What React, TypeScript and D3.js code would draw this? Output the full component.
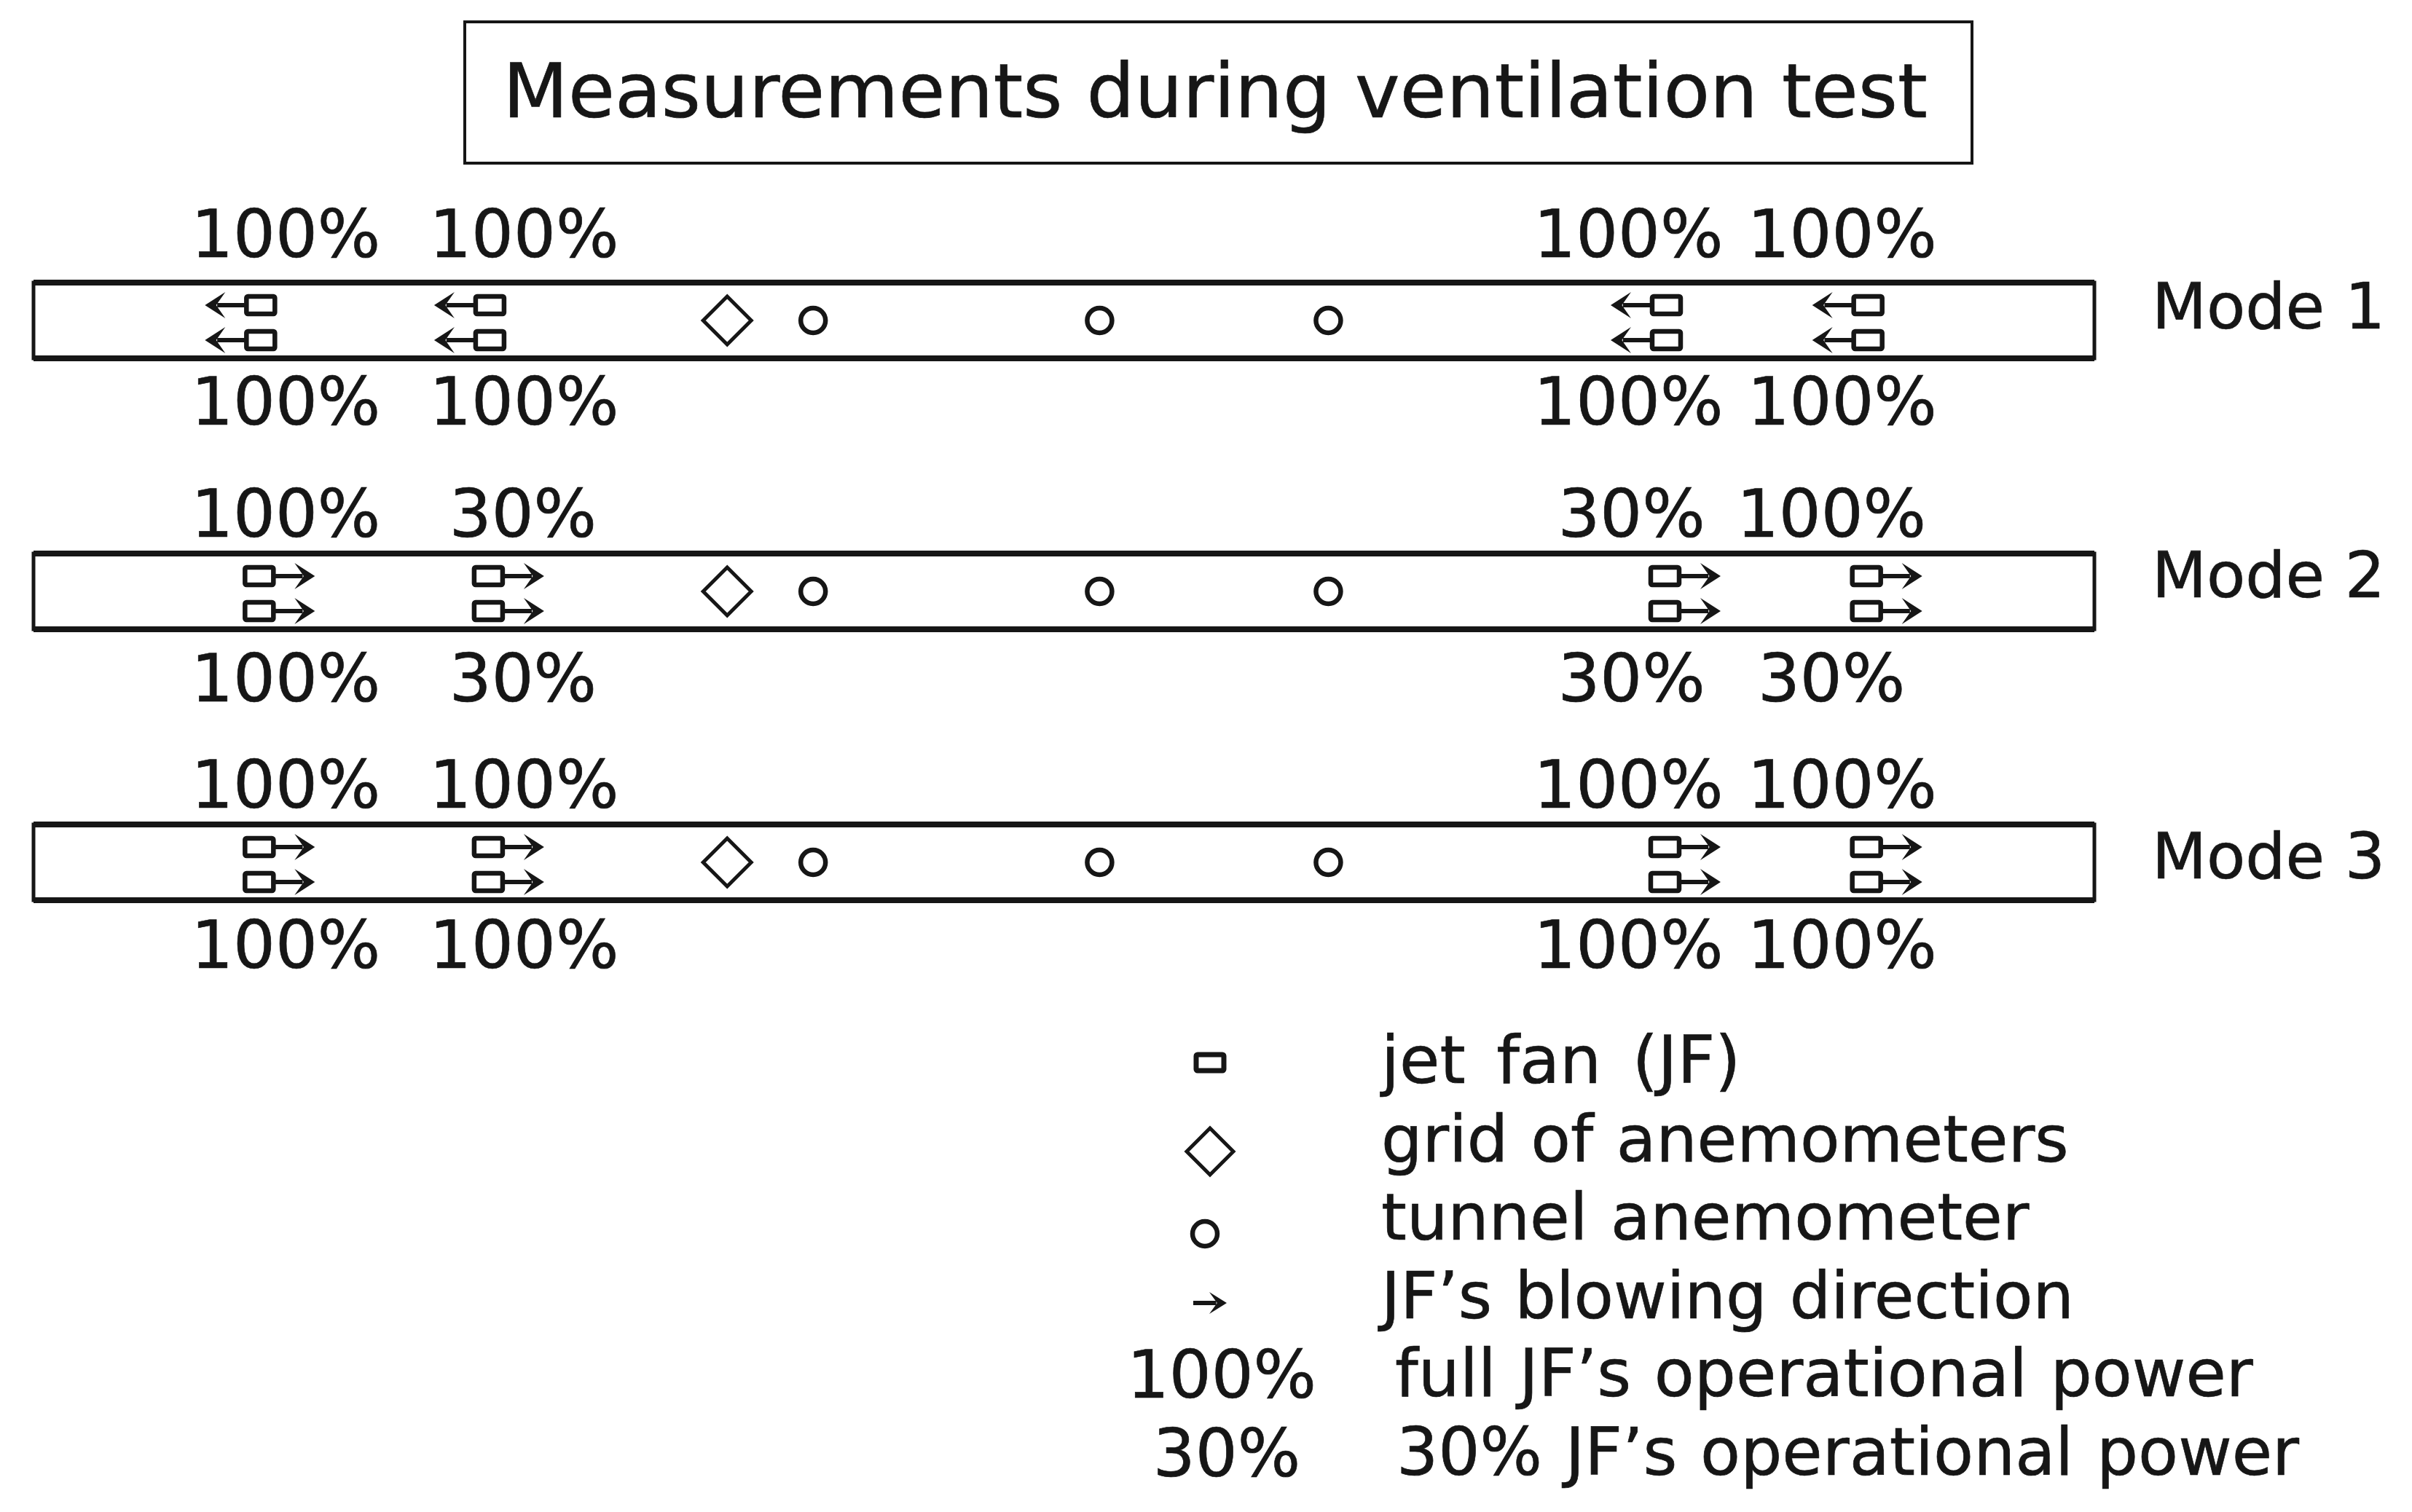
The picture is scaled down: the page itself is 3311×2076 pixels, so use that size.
import React, { useEffect, useRef } from "react";
import * as d3 from "d3";

const modes = ["Mode 1", "Mode 2", "Mode 3"];
// fan blowing direction per mode, -1 = towards the left
const fanDirection = [-1, 1, 1];
// stations are percent of the tunnel length
const fanStations = [11.04, 22.16, 79.25, 89.03];
const gridStation = 33.66;
const anemometerStations = [37.9, 51.8, 62.9];

const topLabels = [
  ["100%", "100%", "100%", "100%"],
  ["100%", "30%", "30%", "100%"],
  ["100%", "100%", "100%", "100%"],
];
const bottomLabels = [
  ["100%", "100%", "100%", "100%"],
  ["100%", "30%", "30%", "30%"],
  ["100%", "100%", "100%", "100%"],
];
const labelStations = [
  [12.24, 23.8, 77.39, 87.76],
  [12.24, 23.75, 77.54, 87.24],
  [12.24, 23.8, 77.39, 87.76],
];

const legendLabels = [
  "jet fan (JF)",
  "grid of anemometers",
  "tunnel anemometer",
  "JF\u2019s blowing direction",
  "full JF\u2019s operational power",
  "30% JF\u2019s operational power",
];

const WIDTH = 3311;
const HEIGHT = 2076;
const FONT = "'DejaVu Sans', sans-serif";
const INK = "#161616";

const App: React.FC = () => {
  const svgRef = useRef<SVGSVGElement | null>(null);

  useEffect(() => {
    if (!svgRef.current) return;
    const svg = d3.select(svgRef.current);
    svg.selectAll("*").remove();

    const x = d3.scaleLinear().domain([0, 100]).range([46, 2875]);
    const y = d3.scalePoint<string>().domain(modes).range([440, 1184]);
    const halfTunnel = 52;

    const text = (s: string, tx: number, ty: number, size: number, anchor = "start") =>
      svg
        .append("text")
        .attr("x", tx)
        .attr("y", ty)
        .attr("font-family", FONT)
        .attr("font-size", size)
        .attr("fill", INK)
        .attr("stroke", INK)
        .attr("stroke-width", 0.7)
        .attr("text-anchor", anchor)
        .text(s);

    const diamond = (cx: number, cy: number, r: number) =>
      svg
        .append("path")
        .attr(
          "d",
          d3.line()([
            [cx - r, cy],
            [cx, cy - r],
            [cx + r, cy],
            [cx, cy + r],
          ]) + "Z"
        )
        .attr("fill", "none")
        .attr("stroke", INK)
        .attr("stroke-width", 5);

    const circle = (cx: number, cy: number, r: number) =>
      svg
        .append("circle")
        .attr("cx", cx)
        .attr("cy", cy)
        .attr("r", r)
        .attr("fill", "none")
        .attr("stroke", INK)
        .attr("stroke-width", 6.5);

    // arrow runs from its tail to the tip, dir gives the side it points to
    const arrow = (tail: number, tip: number, cy: number, dir: number, head = 28, spread = 18) => {
      svg
        .append("line")
        .attr("x1", tail)
        .attr("x2", tip - dir * head * 0.6)
        .attr("y1", cy)
        .attr("y2", cy)
        .attr("stroke", INK)
        .attr("stroke-width", 6);
      svg
        .append("path")
        .attr(
          "d",
          d3.line()([
            [tip - dir * head, cy - spread],
            [tip, cy],
            [tip - dir * head, cy + spread],
            [tip - dir * head * 0.55, cy],
          ]) + "Z"
        )
        .attr("fill", INK);
    };

    // title
    svg
      .append("rect")
      .attr("x", 638)
      .attr("y", 30)
      .attr("width", 2069)
      .attr("height", 194)
      .attr("fill", "none")
      .attr("stroke", INK)
      .attr("stroke-width", 4);
    text("Measurements during ventilation test", 1668, 161, 104, "middle");

    const topDy = [-87, -75, -75];
    const bottomDy = [143, 151, 145];
    const modeDy = [11, 8, 22];

    modes.forEach((mode, m) => {
      const cy = y(mode) as number;

      svg
        .append("rect")
        .attr("x", x(0))
        .attr("y", cy - halfTunnel)
        .attr("width", x(100) - x(0))
        .attr("height", halfTunnel * 2)
        .attr("fill", "none")
        .attr("stroke", INK)
        .attr("stroke-width", 5);
      [-halfTunnel, halfTunnel].forEach((d) =>
        svg
          .append("line")
          .attr("x1", x(0))
          .attr("x2", x(100))
          .attr("y1", cy + d)
          .attr("y2", cy + d)
          .attr("stroke", INK)
          .attr("stroke-width", 8)
      );

      const dir = fanDirection[m];
      fanStations.forEach((s) => {
        // the whole fan+arrow glyph is shifted to the blowing side of the station
        const cx = x(s) + dir * 26 + (dir < 0 ? -3 : 0);
        [-21, 27].forEach((d) => {
          const fanLeft = cx - dir * 48 - (dir > 0 ? 0 : 39);
          svg
            .append("rect")
            .attr("x", fanLeft)
            .attr("y", cy + d - 12)
            .attr("width", 39)
            .attr("height", 24)
            .attr("rx", 2)
            .attr("fill", "none")
            .attr("stroke", INK)
            .attr("stroke-width", 6.5);
          arrow(cx - dir * 9, cx + dir * 48, cy + d, dir);
        });
      });

      diamond(x(gridStation), cy, 33);
      anemometerStations.forEach((s) => circle(x(s) - 2, cy, 17));

      labelStations[m].forEach((s, i) => {
        text(topLabels[m][i], x(s), cy + topDy[m], 91, "middle");
        text(bottomLabels[m][i], x(s), cy + bottomDy[m], 91, "middle");
      });

      text(mode, 2954, cy + modeDy[m], 87);
    });

    // legend
    const legendY = d3.scalePoint<number>().domain(d3.range(legendLabels.length)).range([1487, 2025]);
    const legendX = [1896, 1896, 1896, 1896, 1915, 1917];
    const legendSize = [90, 89, 89, 89, 90, 90];
    legendLabels.forEach((s, i) =>
      text(s, legendX[i], legendY(i) as number, legendSize[i]).attr("word-spacing", i === 0 ? 14 : 3)
    );

    svg
      .append("rect")
      .attr("x", 1642)
      .attr("y", 1448)
      .attr("width", 38)
      .attr("height", 22)
      .attr("rx", 2)
      .attr("fill", "none")
      .attr("stroke", INK)
      .attr("stroke-width", 7);
    diamond(1661, 1581, 32);
    circle(1654, 1694, 17);
    arrow(1638, 1684, 1789, 1, 24, 15);
    text("100%", 1677, 1919, 91, "middle");
    text("30%", 1684, 2027, 91, "middle");
  }, []);

  return (
    <svg
      ref={svgRef}
      width={WIDTH}
      height={HEIGHT}
      style={{ position: "absolute", left: 0, top: 0, background: "#fff" }}
    />
  );
};

export default App;
